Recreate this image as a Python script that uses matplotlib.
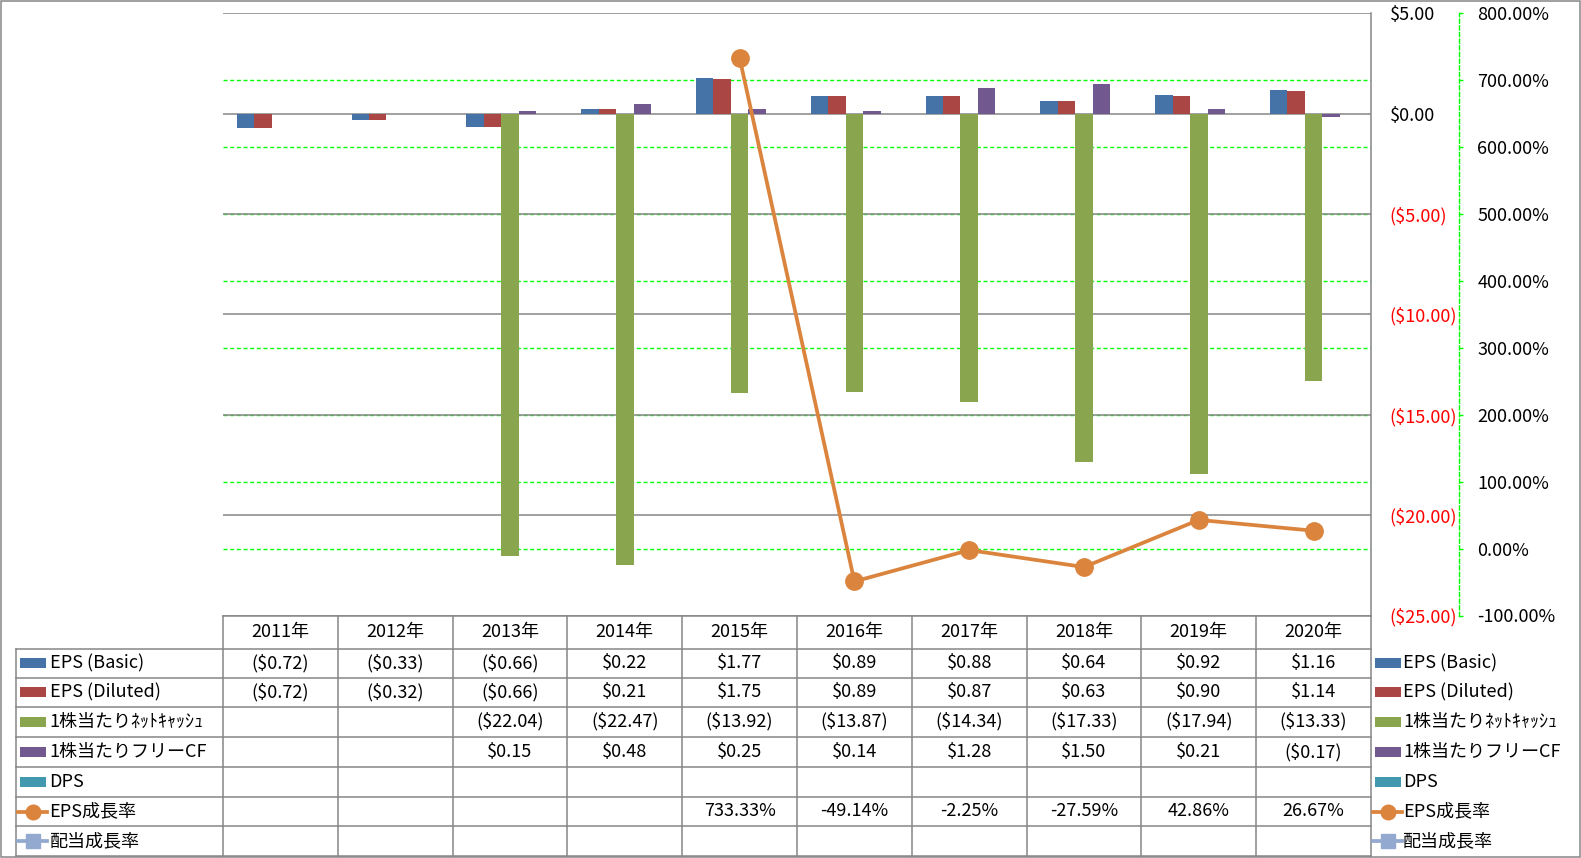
import numpy as np
import matplotlib
matplotlib.use('Agg')
import matplotlib.pyplot as plt
from matplotlib.lines import Line2D
from matplotlib.patches import Rectangle
from matplotlib.transforms import blended_transform_factory

plt.rcParams['font.family'] = ['Noto Sans CJK JP', 'DejaVu Sans']
plt.rcParams['lines.scale_dashes'] = False

# ---------------- data ----------------
years = ['2011年', '2012年', '2013年', '2014年', '2015年',
         '2016年', '2017年', '2018年', '2019年', '2020年']
eps_basic = [-0.72, -0.33, -0.66, 0.22, 1.77, 0.89, 0.88, 0.64, 0.92, 1.16]
eps_diluted = [-0.72, -0.32, -0.66, 0.21, 1.75, 0.89, 0.87, 0.63, 0.90, 1.14]
net_cash = [None, None, -22.04, -22.47, -13.92, -13.87, -14.34, -17.33, -17.94, -13.33]
free_cf = [None, None, 0.15, 0.48, 0.25, 0.14, 1.28, 1.50, 0.21, -0.17]
dps = [None] * 10
eps_growth = [None, None, None, None, 733.33, -49.14, -2.25, -27.59, 42.86, 26.67]
div_growth = [None] * 10

usd_ticks = [5, 0, -5, -10, -15, -20, -25]
pct_ticks = [800, 700, 600, 500, 400, 300, 200, 100, 0, -100]

bar_names = ['EPS (Basic)', 'EPS (Diluted)', '1株当たりﾈｯﾄｷｬｯｼｭ', '1株当たりフリーCF', 'DPS']
line_names = ['EPS成長率', '配当成長率']
bar_colors = ['#4572A7', '#AA4643', '#89A54E', '#71588F', '#4198AF']
line_colors = ['#DB843D', '#93A9CF']
line_markers = ['o', 's']

bar_series = [eps_basic, eps_diluted, net_cash, free_cf, dps]
line_series = [eps_growth, div_growth]


def arr(v):
    return np.array([np.nan if a is None else a for a in v], dtype=float)


def fmt_usd(v):
    if v is None:
        return ''
    return '(${:.2f})'.format(-v) if v < 0 else '${:.2f}'.format(v)


def fmt_pct(v):
    if v is None:
        return ''
    return '{:.2f}%'.format(v)


# ---------------- figure ----------------
W, H = 1581, 858
fig = plt.figure(figsize=(W / 100, H / 100), dpi=100)
fig.patch.set_facecolor('white')

PL, PR, PT, PB = 223, 1371, 13.3, 615.5


def fx(px):
    return px / W


def fy(py):
    return 1 - py / H


FS = 13
GRAY = '#868686'
GREEN = '#00FF00'

ax = fig.add_axes([fx(PL), fy(PB), fx(PR) - fx(PL), fy(PT) - fy(PB)])
ax.patch.set_visible(False)
ax2 = ax.twinx()

n = len(years)
x = np.arange(n)
bw = 0.152
for k, (vals, col) in enumerate(zip(bar_series, bar_colors)):
    v = arr(vals)
    m = ~np.isnan(v)
    if m.any():
        ax.bar(x[m] + (k - 2) * bw, v[m], width=bw, color=col, zorder=3, linewidth=0)

# primary axis (right side)
ax.set_xlim(-0.5, n - 0.5)
ax.set_ylim(min(usd_ticks), max(usd_ticks))
ax.set_xticks([])
ax.yaxis.tick_right()
ax.set_yticks(usd_ticks)
ax.set_yticklabels([fmt_usd(t) for t in usd_ticks])
for lab, t in zip(ax.get_yticklabels(), usd_ticks):
    lab.set_color('#FF0000' if t < 0 else 'black')
ax.tick_params(axis='y', length=0, pad=13.5, labelsize=FS)
ax.yaxis.grid(True, color=GRAY, lw=1.1)
ax.set_axisbelow(True)
for s in ['left', 'top', 'bottom']:
    ax.spines[s].set_visible(False)
ax.spines['right'].set_color(GRAY)
ax.spines['right'].set_linewidth(1.1)

# secondary axis
ax2.set_ylim(min(pct_ticks), max(pct_ticks))
ax2.set_yticks(pct_ticks)
ax2.set_yticklabels([fmt_pct(t) for t in pct_ticks])
for lab, t in zip(ax2.get_yticklabels(), pct_ticks):
    lab.set_color('#FF0000' if t < 0 else 'black')
ax2.tick_params(axis='y', direction='out', length=3, width=1, color=GREEN,
                pad=10.0, labelsize=FS)
for s in ['left', 'top', 'bottom']:
    ax2.spines[s].set_visible(False)
ax2.spines['right'].set_position(('axes', (1459.3 - PL) / (PR - PL)))
ax2.spines['right'].set_color(GREEN)
ax2.spines['right'].set_linewidth(1)
ax2.spines['right'].set_linestyle((0, (2.9, 1.9)))

# green dashed gridlines of the secondary axis, drawn behind the gray grid and bars
tr = blended_transform_factory(ax.transAxes, ax2.transData)
for t in pct_ticks:
    if t in (max(pct_ticks), min(pct_ticks)):
        continue
    ln = Line2D([0, 1], [t, t], transform=tr, color=GREEN, lw=1,
                dashes=(2.9, 1.9), zorder=0.2)
    ax.add_line(ln)

for vals, col, mk in zip(line_series, line_colors, line_markers):
    v = arr(vals)
    if (~np.isnan(v)).any():
        ax2.plot(x, v, color=col, lw=2.7, marker=mk, ms=12.5, mec=col, mfc=col,
                 zorder=4, solid_joinstyle='round')

ax.set_xlim(-0.5, n - 0.5)
ax.set_ylim(min(usd_ticks), max(usd_ticks))

# ---------------- data table & legend (overlay) ----------------
tax = fig.add_axes([0, 0, 1, 1], zorder=5)
tax.set_xlim(0, W)
tax.set_ylim(H, 0)
tax.axis('off')
tax.patch.set_visible(False)

col_w = (PR - PL) / n
col_edges = [PL + col_w * k for k in range(n + 1)]
row_edges = [615.5, 648.5, 677.7, 706.8, 736.5, 767.0, 796.7, 826.3, 856.0]
TL = 16.3

def hline(y, x0, x1):
    tax.add_line(Line2D([x0, x1], [y, y], color=GRAY, lw=1.1))

def vline(xx, y0, y1):
    tax.add_line(Line2D([xx, xx], [y0, y1], color=GRAY, lw=1.1))

hline(row_edges[0], PL, PR)
for y in row_edges[1:]:
    hline(y, TL, PR)
vline(TL, row_edges[1], row_edges[-1])
for xx in col_edges:
    vline(xx, row_edges[0], row_edges[-1])

row_c = [(row_edges[i] + row_edges[i + 1]) / 2 for i in range(len(row_edges) - 1)]
col_c = [(col_edges[i] + col_edges[i + 1]) / 2 for i in range(n)]

for c, yr in zip(col_c, years):
    tax.text(c, row_c[0], yr, ha='center', va='center', fontsize=FS)

all_rows = [(nm, vals, fmt_usd) for nm, vals in zip(bar_names, bar_series)] + \
           [(nm, vals, fmt_pct) for nm, vals in zip(line_names, line_series)]
for r, (nm, vals, f) in enumerate(all_rows):
    yc = row_c[r + 1]
    for c, v in zip(col_c, vals):
        s = f(v)
        if s:
            tax.text(c, yc, s, ha='center', va='center', fontsize=FS)


def draw_key(x0, yc, idx):
    if idx < len(bar_names):
        tax.add_patch(Rectangle((x0, yc - 5), 25.7, 10, color=bar_colors[idx], lw=0))
    else:
        j = idx - len(bar_names)
        tax.add_line(Line2D([x0 - 2, x0 + 27], [yc, yc], color=line_colors[j], lw=2.7))
        tax.add_line(Line2D([x0 + 12.5], [yc], color=line_colors[j], marker=line_markers[j],
                            ms=10.5, mec=line_colors[j], mfc=line_colors[j], lw=0))


names = bar_names + line_names
for r, nm in enumerate(names):
    yc = row_c[r + 1]
    draw_key(20, yc, r)
    tax.text(49.5, yc, nm, ha='left', va='center', fontsize=FS)
    draw_key(1375, yc, r)
    tax.text(1403, yc, nm, ha='left', va='center', fontsize=FS)

# outer chart border
tax.add_patch(Rectangle((0.5, 0.5), W - 1.5, H - 1.5, fill=False, ec=GRAY, lw=1.1))

fig.savefig('out.png', dpi=100, facecolor='white')
